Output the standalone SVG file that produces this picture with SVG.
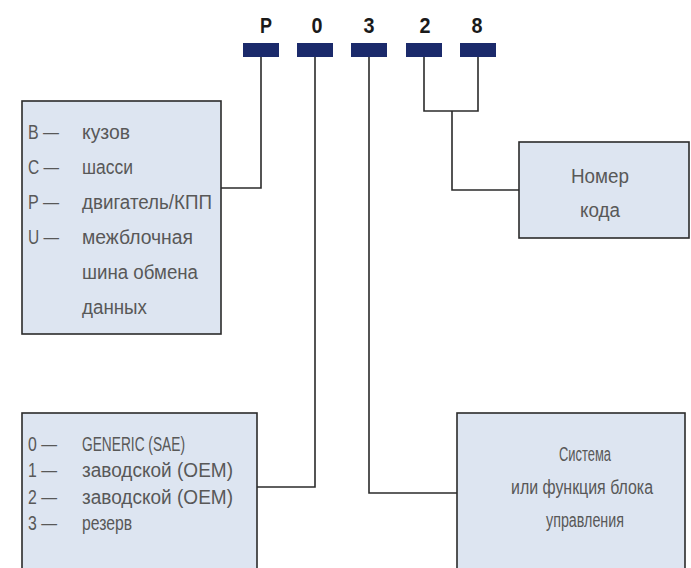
<svg xmlns="http://www.w3.org/2000/svg" width="691" height="568" viewBox="0 0 691 568">
<style>
.box{fill:#dde5f1;stroke:#2b2b2b;stroke-width:1.6}
.bar{fill:#1b2a6b}
.dig{font-family:"Liberation Sans",Arial,sans-serif;font-weight:bold;font-size:22px;fill:#1a1a1a;text-anchor:middle}
.t{font-family:"Liberation Sans",Arial,sans-serif;font-size:20px;fill:#585858}
.c{text-anchor:middle}
.conn{fill:none;stroke:#2b2b2b;stroke-width:1.6}
</style>
<rect width="691" height="568" fill="#fff"/>
<g id="code">
<text class="dig" x="266" y="33" textLength="12" lengthAdjust="spacingAndGlyphs">P</text>
<text class="dig" x="317" y="33" textLength="11" lengthAdjust="spacingAndGlyphs">0</text>
<text class="dig" x="369" y="33" textLength="11" lengthAdjust="spacingAndGlyphs">3</text>
<text class="dig" x="425" y="33" textLength="11" lengthAdjust="spacingAndGlyphs">2</text>
<text class="dig" x="477" y="33" textLength="11" lengthAdjust="spacingAndGlyphs">8</text>
<rect class="bar" x="243" y="43" width="36" height="14"/>
<rect class="bar" x="297" y="43" width="36" height="14"/>
<rect class="bar" x="351" y="43" width="36" height="14"/>
<rect class="bar" x="406" y="43" width="36" height="14"/>
<rect class="bar" x="460" y="43" width="36" height="14"/>
</g>
<g id="connectors">
<polyline class="conn" points="261,57 261,188 221,188"/>
<polyline class="conn" points="424,57 424,111 478,111 478,57"/>
<polyline class="conn" points="452,111 452,190 519,190"/>
<polyline class="conn" points="315,57 315,487 257,487"/>
<polyline class="conn" points="369,57 369,493 457,493"/>
</g>
<g id="system-type">
<rect class="box" x="22" y="101" width="199" height="233"/>
<text class="t" x="28" y="139" textLength="31" lengthAdjust="spacingAndGlyphs">B —</text><text class="t" x="82" y="139" textLength="48" lengthAdjust="spacingAndGlyphs">кузов</text>
<text class="t" x="28" y="174" textLength="31" lengthAdjust="spacingAndGlyphs">C —</text><text class="t" x="82" y="174" textLength="51" lengthAdjust="spacingAndGlyphs">шасси</text>
<text class="t" x="28" y="209" textLength="31" lengthAdjust="spacingAndGlyphs">P —</text><text class="t" x="82" y="209" textLength="130" lengthAdjust="spacingAndGlyphs">двигатель/КПП</text>
<text class="t" x="28" y="244" textLength="31" lengthAdjust="spacingAndGlyphs">U —</text><text class="t" x="82" y="244" textLength="111" lengthAdjust="spacingAndGlyphs">межблочная</text>
<text class="t" x="82" y="279" textLength="116" lengthAdjust="spacingAndGlyphs">шина обмена</text>
<text class="t" x="82" y="314" textLength="65" lengthAdjust="spacingAndGlyphs">данных</text>
</g>
<g id="code-number">
<rect class="box" x="519" y="142" width="170" height="96"/>
<text class="t c" x="600" y="183" textLength="58" lengthAdjust="spacingAndGlyphs">Номер</text>
<text class="t c" x="600" y="217" textLength="40" lengthAdjust="spacingAndGlyphs">кода</text>
</g>
<g id="code-type">
<rect class="box" x="22" y="413" width="235" height="170"/>
<text class="t" x="28" y="451" textLength="29" lengthAdjust="spacingAndGlyphs">0 —</text><text class="t" x="82" y="451" textLength="103" lengthAdjust="spacingAndGlyphs">GENERIC (SAE)</text>
<text class="t" x="28" y="477" textLength="29" lengthAdjust="spacingAndGlyphs">1 —</text><text class="t" x="82" y="477" textLength="151" lengthAdjust="spacingAndGlyphs">заводской (OEM)</text>
<text class="t" x="28" y="504" textLength="29" lengthAdjust="spacingAndGlyphs">2 —</text><text class="t" x="82" y="504" textLength="151" lengthAdjust="spacingAndGlyphs">заводской (OEM)</text>
<text class="t" x="28" y="530" textLength="29" lengthAdjust="spacingAndGlyphs">3 —</text><text class="t" x="82" y="530" textLength="50" lengthAdjust="spacingAndGlyphs">резерв</text>
</g>
<g id="system-function">
<rect class="box" x="457" y="413" width="228" height="170"/>
<text class="t c" x="585" y="461" textLength="52" lengthAdjust="spacingAndGlyphs">Система</text>
<text class="t c" x="582" y="494" textLength="142" lengthAdjust="spacingAndGlyphs">или функция блока</text>
<text class="t c" x="585" y="527" textLength="78" lengthAdjust="spacingAndGlyphs">управления</text>
</g>
</svg>
